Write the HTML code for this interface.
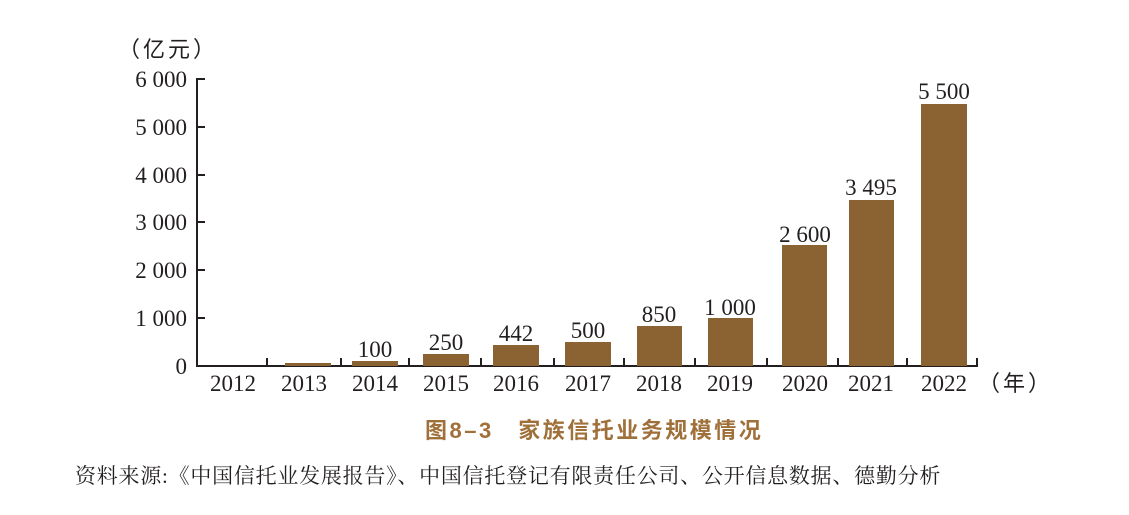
<!DOCTYPE html>
<html><head><meta charset="utf-8"><style>
body{margin:0;background:#fff;}
svg{display:block;}
.t{font-family:"Liberation Serif","Noto Serif CJK SC",serif;font-size:23px;fill:#231f20;}
</style></head><body>
<svg width="1129" height="515" xmlns="http://www.w3.org/2000/svg">
<g class="t">
<text x="118" y="57" style="font-family:'Liberation Serif','Noto Sans CJK SC',sans-serif;font-size:22px;letter-spacing:3px">（亿元）</text>
<g text-anchor="end">
<text x="187" y="87">6 000</text>
<text x="187" y="135">5 000</text>
<text x="187" y="183">4 000</text>
<text x="187" y="230">3 000</text>
<text x="187" y="278">2 000</text>
<text x="187" y="326">1 000</text>
<text x="187" y="374">0</text>
</g>
</g>
<g stroke="#231f20" stroke-width="2" fill="none">
<line x1="197" y1="78" x2="197" y2="366"/>
<line x1="196" y1="366" x2="978" y2="366"/>
<line x1="197" y1="79" x2="205" y2="79"/>
<line x1="197" y1="127" x2="205" y2="127"/>
<line x1="197" y1="175" x2="205" y2="175"/>
<line x1="197" y1="222" x2="205" y2="222"/>
<line x1="197" y1="270" x2="205" y2="270"/>
<line x1="197" y1="318" x2="205" y2="318"/>
<line x1="267" y1="358" x2="267" y2="366"/>
<line x1="341" y1="358" x2="341" y2="366"/>
<line x1="409" y1="358" x2="409" y2="366"/>
<line x1="481" y1="358" x2="481" y2="366"/>
<line x1="554" y1="358" x2="554" y2="366"/>
<line x1="624" y1="358" x2="624" y2="366"/>
<line x1="695" y1="358" x2="695" y2="366"/>
<line x1="767" y1="358" x2="767" y2="366"/>
<line x1="838" y1="358" x2="838" y2="366"/>
<line x1="907" y1="358" x2="907" y2="366"/>
<line x1="977" y1="358" x2="977" y2="366"/>
</g>
<g fill="#8b6232">
<rect x="285" y="363" width="46" height="3"/>
<rect x="352" y="361" width="46" height="5"/>
<rect x="423" y="354" width="46" height="12"/>
<rect x="493" y="345" width="46" height="21"/>
<rect x="565" y="342" width="46" height="24"/>
<rect x="637" y="326" width="45" height="40"/>
<rect x="708" y="318" width="45" height="48"/>
<rect x="782" y="245" width="45" height="121"/>
<rect x="849" y="200" width="45" height="166"/>
<rect x="921" y="104" width="46" height="262"/>
</g>
<g class="t" text-anchor="middle">
<text x="375" y="357">100</text>
<text x="446" y="350">250</text>
<text x="516" y="341">442</text>
<text x="588" y="338">500</text>
<text x="659" y="322">850</text>
<text x="730" y="315">1 000</text>
<text x="805" y="242">2 600</text>
<text x="871" y="195">3 495</text>
<text x="944" y="99">5 500</text>
<text x="233" y="391">2012</text>
<text x="304" y="391">2013</text>
<text x="375" y="391">2014</text>
<text x="446" y="391">2015</text>
<text x="516" y="391">2016</text>
<text x="588" y="391">2017</text>
<text x="659" y="391">2018</text>
<text x="730" y="391">2019</text>
<text x="805" y="391">2020</text>
<text x="871" y="391">2021</text>
<text x="944" y="391">2022</text>
</g>
<text x="978" y="391" class="t" style="font-family:'Liberation Serif','Noto Sans CJK SC',sans-serif;font-size:22px;letter-spacing:3px">（年）</text>
<text x="425" y="438" fill="#a0703a" style="font-family:'Liberation Sans','Noto Sans CJK SC',sans-serif;font-size:22px;font-weight:bold;letter-spacing:2.5px">图8–3　家族信托业务规模情况</text>
<text x="75" y="483" fill="#231f20" style="font-family:'Liberation Serif','Noto Serif CJK SC',serif;font-size:21px;letter-spacing:0.75px">资料来源:《中国信托业发展报告》、中国信托登记有限责任公司、公开信息数据、德勤分析</text>
</svg>
</body></html>
